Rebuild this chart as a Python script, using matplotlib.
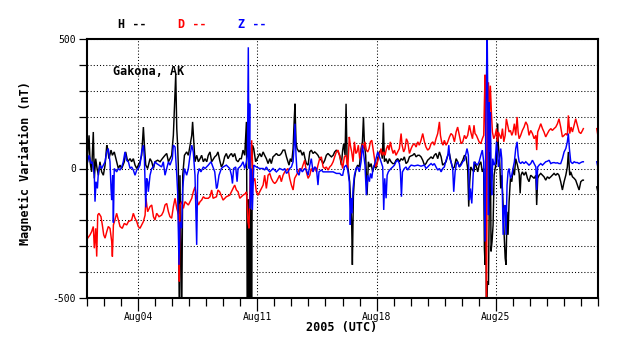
import numpy as np
import matplotlib
matplotlib.use('Agg')
import matplotlib.pyplot as plt
import matplotlib.dates as mdates
from datetime import datetime

nan = np.nan

# readings: (days since Aug01 00UT, nT)
# H component
h_pts = [
    (0.04,51),(0.12,128),(0.18,26),(0.27,-13),(0.37,141),(0.43,-38),(0.51,38),(0.59,0),(0.67,-26),(0.76,26),
    (0.86,-13),(0.96,-26),(1.06,13),(1.16,90),(1.21,77),(1.29,38),(1.41,71),(1.49,51),(1.60,64),(1.74,26),
    (1.84,0),(1.94,13),(2.04,0),(2.19,26),(2.27,64),(2.39,26),(2.53,38),(2.62,26),(2.72,38),(2.82,13),
    (2.92,0),(3.01,13),(3.11,26),(3.21,51),(3.31,160),(3.37,90),(3.45,13),(3.56,0),(3.70,38),(3.80,26),
    (3.90,0),(3.99,26),(4.15,32),(4.29,26),(4.42,38),(4.58,51),(4.68,58),(4.78,26),(4.87,38),(4.97,51),
    (5.07,128),(5.13,231),(5.21,365),(5.27,154),(5.32,90),(5.36,13),(5.42,-600),(5.46,-26),(5.56,-600),(5.62,-26),
    (5.72,51),(5.85,64),(5.95,51),(6.05,90),(6.15,128),(6.20,180),(6.28,90),(6.34,26),(6.44,51),(6.54,26),
    (6.64,38),(6.73,51),(6.83,26),(6.93,38),(7.03,26),(7.12,51),(7.22,64),(7.32,26),
    (7.50,45),(7.60,51),(7.69,64),(7.79,32),(7.89,6),(7.99,19),(8.08,45),(8.18,58),(8.28,38),(8.38,51),
    (8.48,58),(8.57,45),(8.67,58),(8.77,32),(8.87,26),(8.97,38),(9.06,38),(9.16,71),(9.26,51),(9.36,180),
    (9.42,-600),(9.44,-150),(9.46,-600),(9.48,-120),(9.50,-600),(9.52,-180),(9.54,-600),(9.56,-140),
    (9.58,-600),(9.60,-200),(9.62,-600),(9.64,-160),(9.66,-600),
    (9.71,90),(9.79,77),(9.90,26),(10.04,45),(10.14,58),(10.24,45),(10.34,64),(10.43,51),(10.53,38),(10.63,19),
    (10.73,38),(10.82,19),(10.92,45),(11.02,51),(11.12,58),(11.22,51),(11.31,51),(11.41,58),(11.51,71),(11.61,71),
    (11.71,45),(11.80,26),(11.86,13),(11.94,38),(12.02,26),(12.10,77),(12.16,180),(12.21,250),(12.27,103),(12.33,77),
    (12.45,64),(12.53,71),(12.64,51),(12.72,64),(12.80,38),(12.88,19),(12.98,13),(13.08,64),(13.17,71),(13.27,58),
    (13.37,64),(13.47,58),(13.56,51),(13.66,38),(13.76,32),(13.86,19),(13.96,32),(14.05,51),(14.15,58),(14.25,51),
    (14.35,45),(14.45,51),(14.54,64),(14.64,71),(14.74,64),(14.84,51),(14.93,13),
    (15.01,71),(15.07,96),(15.15,51),(15.21,250),(15.27,26),(15.35,-13),(15.42,-51),(15.50,-154),(15.54,-218),(15.58,-372),
    (15.64,-103),(15.70,-38),(15.80,0),(15.89,13),(15.99,6),(16.09,77),(16.17,103),(16.23,199),(16.29,90),(16.36,51),
    (16.44,-103),(16.52,26),(16.60,6),(16.68,19),(16.77,-13),(16.87,13),(16.97,0),(17.07,38),(17.17,64),(17.26,71),
    (17.34,38),(17.40,177),(17.46,26),(17.56,38),(17.66,19),(17.75,38),(17.85,26),(17.95,19),(18.05,19),(18.14,32),
    (18.24,38),(18.34,26),(18.44,38),(18.54,32),(18.63,45),(18.73,19),(18.83,26),(18.93,45),(19.03,49),(19.12,51),
    (19.22,58),(19.32,45),(19.42,51),(19.51,51),(19.61,45),(19.71,32),(19.81,13),(19.90,19),(20.00,32),(20.10,38),
    (20.20,45),(20.30,38),(20.39,51),(20.49,58),(20.59,38),(20.69,64),(20.79,45),(20.88,13),(20.98,19),(21.08,26),
    (21.18,51),(21.28,58),(21.37,26),(21.47,0),(21.57,6),(21.67,38),(21.76,26),(21.86,6),(21.96,19),(22.06,32),
    (22.16,51),(22.25,45),(22.35,0),(22.41,-147),(22.47,-51),
    (22.53,6),(22.63,-6),(22.72,-13),(22.78,26),(22.86,6),(22.94,-13),(23.02,13),(23.12,26),(23.21,-13),(23.29,0),
    (23.33,-308),(23.37,-372),(23.41,-26),(23.45,-600),(23.51,-436),(23.57,-449),(23.63,-26),(23.68,115),(23.72,-320),(23.78,-282),
    (23.84,-218),(23.90,-26),(23.96,0),(24.04,26),(24.10,173),(24.15,90),(24.23,26),(24.29,-77),(24.35,-26),(24.43,-141),
    (24.49,-256),(24.55,-346),(24.60,-372),(24.66,-167),(24.72,-256),(24.78,-128),(24.86,-38),(24.94,-51),(25.01,0),(25.09,-26),
    (25.17,38),(25.27,13),(25.37,-19),(25.43,-96),(25.48,-26),(25.56,-13),(25.66,-26),(25.76,-13),(25.86,-38),(25.95,-51),
    (26.05,-26),(26.15,-32),(26.25,-38),(26.35,-26),(26.40,-141),(26.46,-38),(26.54,-26),(26.64,-19),(26.74,-26),(26.83,-32),
    (26.93,-45),(27.03,-32),(27.13,-38),(27.23,-32),(27.32,-26),(27.42,-19),(27.52,-26),(27.62,-19),(27.71,-26),(27.81,-51),
    (27.91,-83),(28.01,-51),(28.11,-26),(28.20,6),(28.26,64),(28.34,-26),(28.40,-13),(28.50,-32),(28.60,-38),(28.69,-45),
    (28.79,-64),(28.89,-83),(28.99,-51),(29.09,-45),(29.14,-45),
    (29.5,nan),(29.93,-71),(29.99,-90)]

# D component
d_pts = [
    (0.04,-269),(0.18,-256),(0.27,-244),(0.37,-224),(0.43,-308),(0.51,-231),(0.57,-340),(0.63,-180),(0.70,-173),(0.82,-186),
    (0.90,-218),(0.98,-256),(1.06,-269),(1.16,-244),(1.25,-224),(1.35,-231),(1.45,-282),(1.49,-340),(1.55,-218),(1.64,-199),
    (1.74,-173),(1.84,-199),(1.94,-224),(2.07,-231),(2.19,-212),(2.33,-218),(2.43,-205),(2.62,-199),(2.72,-173),(2.82,-192),
    (2.92,-205),(3.01,-224),(3.11,-231),(3.21,-218),(3.31,-205),(3.41,-180),(3.46,-115),(3.56,-167),(3.70,-147),(3.80,-141),
    (3.90,-186),(3.99,-199),(4.09,-173),(4.23,-186),(4.38,-180),(4.48,-167),(4.58,-141),(4.68,-135),(4.78,-167),(4.87,-186),
    (4.97,-192),(5.07,-147),(5.17,-115),(5.27,-154),(5.38,-180),(5.42,-436),(5.46,-140),(5.56,-128),(5.66,-154),(5.75,-128),
    (5.95,-141),(6.05,-128),(6.15,-115),(6.24,-90),(6.34,-71),(6.44,-115),(6.54,-141),(6.64,-128),(6.73,-122),(6.83,-109),
    (6.93,-115),(7.12,-115),(7.22,-109),(7.32,-83),
    (7.40,-115),(7.60,-109),(7.69,-83),(7.79,-90),(7.99,-122),(8.18,-109),(8.38,-103),(8.57,-77),(8.67,-64),(8.77,-83),
    (8.87,-90),(8.97,-115),(9.16,-103),(9.32,-96),(9.36,-90),(9.45,-205),(9.51,-231),(9.59,0),(9.67,109),(9.75,-51),
    (9.85,-38),(9.94,-90),(10.04,-103),(10.14,-90),(10.24,-77),(10.34,-64),(10.43,-26),(10.53,-77),(10.63,-26),(10.73,-19),
    (10.82,-38),(10.92,-51),(11.02,-58),(11.12,-51),(11.22,-38),(11.31,-26),(11.41,-51),(11.51,-26),(11.61,-13),(11.71,-6),
    (11.80,0),(11.90,-38),(12.00,-64),(12.10,-83),(12.19,-38),(12.29,-26),(12.39,-13),(12.49,0),(12.59,-6),(12.68,13),
    (12.78,32),(12.88,-13),(12.98,-38),(13.08,-26),(13.17,0),(13.27,-13),(13.37,6),(13.47,-13),(13.56,13),(13.66,38),
    (13.76,45),(13.86,6),(13.96,0),(14.05,6),(14.15,-6),(14.25,6),(14.35,13),(14.45,26),(14.54,45),(14.64,64),
    (14.74,71),(14.84,45),(14.93,26),
    (15.01,0),(15.11,45),(15.21,51),(15.31,0),(15.40,122),(15.46,90),(15.54,64),(15.62,26),(15.70,103),(15.78,58),
    (15.85,64),(15.93,90),(16.01,38),(16.09,64),(16.17,96),(16.25,77),(16.32,103),(16.40,71),(16.48,64),(16.56,77),
    (16.64,103),(16.72,109),(16.79,77),(16.87,38),(16.95,6),(17.03,19),(17.11,38),(17.19,58),(17.26,77),(17.34,51),
    (17.42,64),(17.50,51),(17.58,77),(17.66,90),(17.73,71),(17.81,103),(17.89,77),(17.97,58),(18.05,71),(18.14,51),
    (18.24,64),(18.34,77),(18.44,135),(18.50,90),(18.59,64),(18.67,77),(18.75,115),(18.83,103),(18.93,58),(19.03,77),
    (19.12,90),(19.22,96),(19.32,83),(19.42,103),(19.51,90),(19.61,109),(19.71,135),(19.81,103),(19.90,83),(20.00,71),
    (20.10,77),(20.20,96),(20.30,103),(20.39,90),(20.49,115),(20.59,135),(20.69,180),(20.75,128),(20.82,103),(20.90,90),
    (20.98,109),(21.08,90),(21.18,103),(21.28,122),(21.37,135),(21.47,128),(21.57,103),(21.67,141),(21.76,160),(21.86,128),
    (21.96,96),(22.06,103),(22.16,128),(22.25,115),(22.35,128),(22.45,167),
    (22.53,141),(22.63,115),(22.72,167),(22.78,135),(22.86,128),(22.94,115),(23.02,103),(23.12,96),(23.21,115),(23.29,128),
    (23.33,256),(23.37,362),(23.41,64),(23.45,-600),(23.51,256),(23.57,333),(23.63,192),(23.68,320),(23.74,218),(23.80,141),
    (23.88,115),(23.96,128),(24.04,154),(24.10,103),(24.15,141),(24.23,128),(24.31,115),(24.39,154),(24.47,103),(24.55,128),
    (24.62,192),(24.70,167),(24.78,141),(24.86,147),(24.94,128),(25.01,141),(25.09,173),(25.17,128),(25.25,199),(25.31,141),
    (25.37,115),(25.46,128),(25.56,147),(25.66,160),(25.76,180),(25.86,167),(25.95,128),(26.05,147),(26.15,135),(26.25,115),
    (26.35,128),(26.40,71),(26.46,141),(26.54,154),(26.64,173),(26.74,154),(26.83,141),(26.93,122),(27.03,135),(27.13,147),
    (27.23,154),(27.32,147),(27.42,154),(27.52,160),(27.62,173),(27.71,192),(27.81,160),(27.91,122),(28.01,128),(28.11,135),
    (28.20,128),(28.26,205),(28.34,135),(28.42,160),(28.50,141),(28.60,167),(28.69,192),(28.79,167),(28.89,141),(28.99,135),
    (29.09,147),(29.14,154),
    (29.5,nan),(29.93,154),(29.99,128)]

# Z component
z_pts = [
    (0.04,26),(0.12,51),(0.24,19),(0.31,26),(0.43,-26),(0.47,-128),(0.53,-51),(0.61,-77),(0.67,-13),(0.76,13),
    (0.86,0),(0.96,13),(1.06,26),(1.16,64),(1.25,77),(1.35,26),(1.41,-77),(1.45,-122),(1.51,-26),(1.55,-209),
    (1.60,0),(1.74,-13),(1.84,0),(1.94,-6),(2.04,6),(2.13,26),(2.23,64),(2.33,32),(2.43,26),(2.53,0),
    (2.62,6),(2.72,-6),(2.82,-26),(2.92,-6),(3.01,0),(3.11,13),(3.21,64),(3.31,90),(3.37,38),(3.45,-150),
    (3.50,-38),(3.56,-51),(3.60,-90),(3.70,-26),(3.80,0),(3.90,6),(3.99,26),(4.09,19),(4.23,13),(4.38,6),
    (4.48,26),(4.58,-26),(4.68,0),(4.78,26),(4.87,13),(5.01,38),(5.07,90),(5.17,83),(5.27,-26),(5.32,-90),
    (5.40,-372),(5.46,-205),(5.56,-231),(5.62,-77),(5.72,0),(5.85,-26),(5.95,0),(6.05,51),(6.15,90),(6.24,64),
    (6.34,-26),(6.44,-295),(6.50,-26),(6.58,0),(6.69,-13),(6.83,6),(6.93,0),(7.12,13),(7.28,26),
    (7.50,-13),(7.60,-77),(7.65,-71),(7.75,-26),(7.89,0),(7.99,6),(8.18,13),(8.38,0),(8.48,-26),(8.54,-58),
    (8.61,0),(8.73,6),(8.81,-51),(8.87,0),(8.97,6),(9.06,13),(9.16,26),(9.26,0),(9.36,26),(9.42,51),
    (9.47,468),(9.51,0),(9.55,250),(9.59,-154),(9.65,0),(9.71,-160),(9.79,13),(9.94,6),(10.14,0),(10.34,0),
    (10.43,-6),(10.53,6),(10.63,-6),(10.73,-13),(10.92,0),(11.12,-13),(11.31,0),(11.51,-6),(11.61,0),(11.71,-19),
    (11.80,-13),(11.90,0),(12.00,6),(12.10,26),(12.16,90),(12.21,173),(12.27,51),(12.33,-13),(12.45,-26),(12.53,0),
    (12.64,-13),(12.78,0),(12.88,-6),(12.98,-26),(13.08,13),(13.17,38),(13.27,-13),(13.37,6),(13.47,0),(13.56,-64),
    (13.62,-13),(13.76,-6),(13.86,-13),(14.05,-13),(14.25,-13),(14.45,-13),(14.64,-19),(14.84,-19),(14.93,-26),
    (15.01,-26),(15.11,6),(15.21,13),(15.31,-6),(15.40,-51),(15.46,-218),(15.50,-115),(15.56,-173),(15.62,-77),(15.70,-26),
    (15.80,0),(15.89,6),(15.99,-13),(16.09,26),(16.17,90),(16.25,51),(16.32,13),(16.40,-103),(16.48,-26),(16.58,-51),
    (16.64,-19),(16.72,-38),(16.79,0),(16.87,13),(16.97,38),(17.07,64),(17.17,45),(17.26,26),(17.36,6),(17.42,-160),
    (17.48,-38),(17.56,-115),(17.62,-26),(17.69,-13),(17.77,-6),(17.85,0),(17.95,6),(18.05,13),(18.14,26),(18.24,32),
    (18.34,19),(18.40,-13),(18.46,-109),(18.52,-13),(18.63,0),(18.73,6),(18.83,-6),(18.93,6),(19.03,13),(19.22,10),
    (19.42,13),(19.61,9),(19.81,13),(19.90,0),(20.00,6),(20.10,13),(20.20,19),(20.30,13),(20.39,19),(20.49,6),
    (20.59,-6),(20.69,0),(20.79,-13),(20.88,0),(20.98,6),(21.08,32),(21.18,51),(21.24,90),(21.30,38),(21.37,26),
    (21.47,0),(21.53,-90),(21.61,-13),(21.69,19),(21.76,26),(21.86,6),(21.96,13),(22.06,26),(22.16,32),(22.25,58),
    (22.31,77),(22.39,51),(22.45,-122),(22.51,-77),
    (22.59,-135),(22.67,-26),(22.72,26),(22.82,19),(22.92,13),(23.02,26),(23.12,51),(23.21,71),(23.29,26),(23.33,-128),
    (23.37,-282),(23.41,128),(23.45,320),(23.49,560),(23.53,256),(23.57,-180),(23.61,256),(23.64,64),(23.68,218),(23.72,-26),
    (23.76,-103),(23.82,38),(23.90,13),(23.96,19),(24.04,103),(24.10,64),(24.15,6),(24.23,38),(24.29,77),(24.35,38),
    (24.43,-256),(24.49,-154),(24.55,-141),(24.60,-256),(24.66,-64),(24.72,-13),(24.78,0),(24.86,-38),(24.94,-26),(25.01,0),
    (25.09,26),(25.17,77),(25.25,103),(25.31,51),(25.37,26),(25.46,19),(25.56,26),(25.66,19),(25.76,26),(25.86,19),
    (25.95,13),(26.05,19),(26.15,32),(26.25,19),(26.35,6),(26.40,-83),(26.46,6),(26.54,13),(26.64,19),(26.74,13),
    (26.83,19),(26.93,26),(27.03,28),(27.13,32),(27.23,19),(27.32,22),(27.42,23),(27.52,21),(27.62,22),(27.71,19),
    (27.81,19),(27.91,38),(28.01,64),(28.11,77),(28.20,103),(28.26,135),(28.32,77),(28.40,26),(28.50,19),(28.60,26),
    (28.69,23),(28.79,23),(28.89,19),(28.99,23),(29.09,26),(29.14,26),
    (29.5,nan),(29.93,26),(29.99,6)]

series = [('H', h_pts, 'black'), ('D', d_pts, 'red'), ('Z', z_pts, 'blue')]
station = 'Gakona, AK'
ytick_vals = np.arange(-500, 501, 100)
ytick_text = ['-500', '', '', '', '', '0', '', '', '', '', '500']

mono = 'DejaVu Sans Mono'

fig = plt.figure(figsize=(6.38, 3.59), dpi=100)
ax = fig.add_axes([87/638, 1-298/359, 511/638, 259/359])

start = mdates.date2num(datetime(2005, 8, 1))
for name, pts, col in series:
    t, v = np.array(pts, dtype=float).T
    ax.plot(start + t, v, color=col, lw=1.05, solid_joinstyle='miter')

ax.set_xlim(start, start + 30)
ax.set_ylim(-500, 500)
ax.xaxis.set_major_locator(mdates.DayLocator(bymonthday=[4, 11, 18, 25]))
ax.xaxis.set_minor_locator(mdates.DayLocator())
ax.xaxis.set_major_formatter(mdates.DateFormatter('%b%d'))
ax.set_yticks(ytick_vals)
ax.set_yticklabels(ytick_text)

ax.grid(True, which='major', color='black', linestyle=(0, (1, 2)), linewidth=0.75)
for s in ax.spines.values():
    s.set_linewidth(1.5)

ax.tick_params(axis='x', which='major', direction='out', length=9, width=0.9, pad=1, labelsize=7)
ax.tick_params(axis='x', which='minor', direction='out', length=6, width=0.9)
ax.tick_params(axis='y', which='major', direction='out', length=6, width=0.9, pad=2, labelsize=7)
for lab in ax.get_xticklabels() + ax.get_yticklabels():
    lab.set_family(mono)

ax.text(0.051, 0.873, station, transform=ax.transAxes, family=mono,
        fontweight='bold', fontsize=8.5, va='center', ha='left')

fig.text(342/638, 1-328/359, '2005 (UTC)', family=mono, fontweight='bold',
         fontsize=8.5, ha='center', va='center')
fig.text(25/638, 1-163/359, 'Magnetic Variation (nT)', family=mono, fontweight='bold',
         fontsize=8.5, ha='center', va='center', rotation=90)

leg_x = [118, 178, 238]
for (name, pts, col), lx in zip(series, leg_x):
    fig.text(lx/638, 1-24/359, name + ' --', color=col, family=mono, fontweight='bold',
             fontsize=8.5, ha='left', va='center')

fig.savefig('out.png', dpi=100)
